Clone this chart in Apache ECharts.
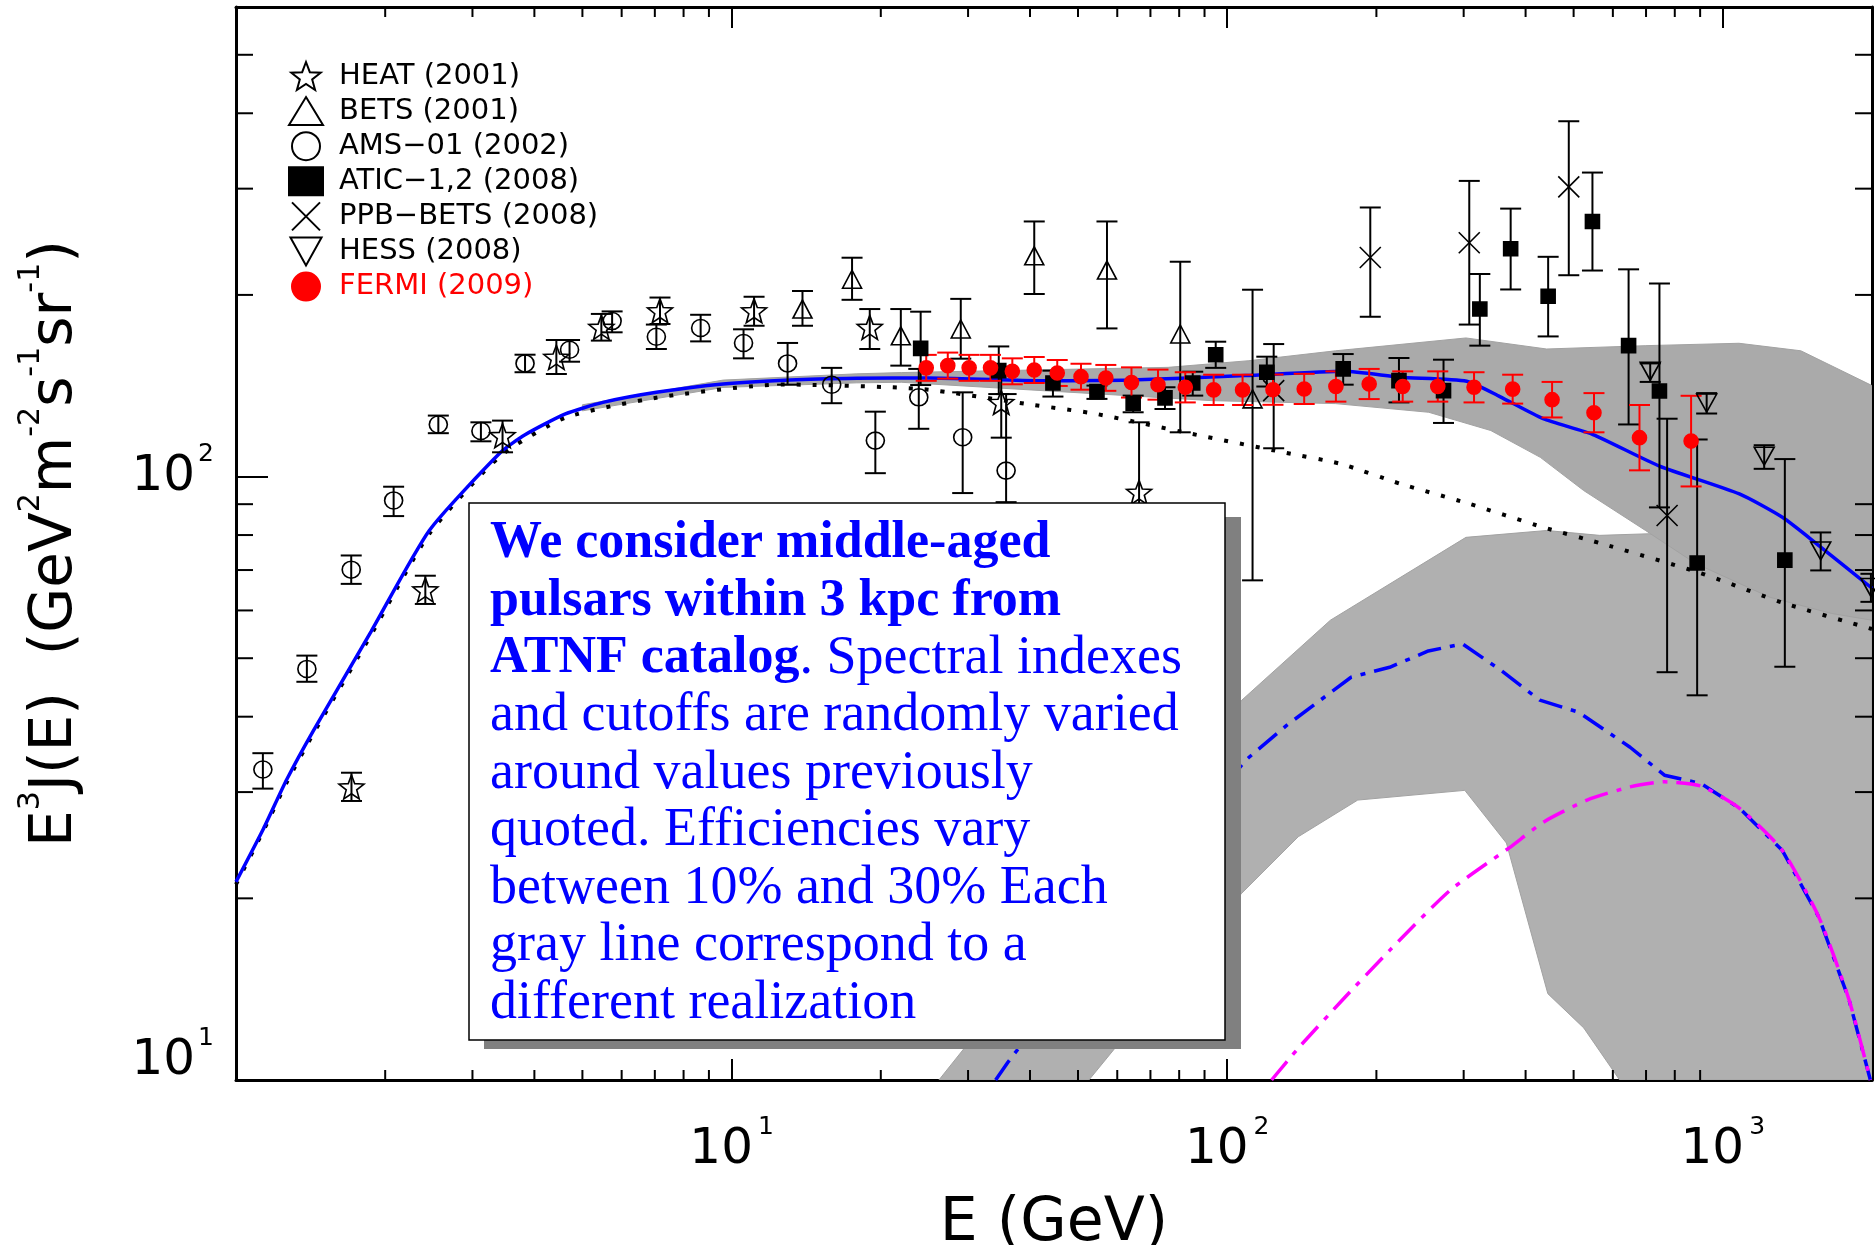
<!DOCTYPE html>
<html>
<head>
<meta charset="utf-8">
<script src="https://cdn.jsdelivr.net/npm/echarts@6/dist/echarts.min.js"></script>
<style>
  html, body { margin: 0; padding: 0; background: #fff; }
  #chart { width: 1875px; height: 1245px; }
</style>
</head>
<body>
<div id="chart"></div>
<script>
// axis ranges
const E_MIN = 1, E_MAX = 2000, J_MIN = 10, J_MAX = 600;
const xMinorTicks = [2, 3, 4, 5, 6, 7, 8, 9, 20, 30, 40, 50, 60, 70, 80, 90, 200, 300, 400, 500, 600, 700, 800, 900];
const yMinorTicks = [20, 30, 40, 50, 60, 70, 80, 90, 200, 300, 400, 500];

// measurements: [E, E^3 J, low, high]
const heat = [
  [1.71, 30.6, 29.0, 32.3], [2.41, 64.9, 61.5, 68.5], [3.45, 116.9, 109.7, 123.8],
  [4.43, 157.6, 147.9, 168.4], [5.46, 176.7, 168.0, 186.0], [7.17, 188.3, 179.0, 198.0],
  [11.1, 188.3, 177.8, 198.6], [19.0, 176.7, 162.7, 189.5], [35.0, 132.7, 116.0, 152.0],
  [66.4, 94.2, 72.0, 123.0]
];
const bets = [
  [13.9, 189.5, 177.8, 203.0], [17.5, 212.3, 196.3, 230.5], [21.95, 171.1, 152.7, 189.5],
  [29.0, 175.6, 156.8, 197.0], [40.8, 232.2, 200.7, 264.7], [57.2, 219.9, 176.0, 264.7],
  [80.4, 172.3, 118.4, 227.0], [112.5, 134.5, 67.3, 204.0]
];
const ams = [
  [1.133, 32.7, 30.4, 34.8], [1.39, 48.0, 45.7, 50.5], [1.708, 70.1, 66.4, 74.0],
  [2.08, 91.3, 86.0, 96.2], [2.56, 122.0, 118.0, 126.2], [3.12, 119.0, 114.4, 123.0],
  [3.83, 154.0, 148.9, 159.2], [4.71, 162.2, 155.0, 168.4], [5.74, 181.0, 173.4, 187.8],
  [7.05, 170.5, 162.7, 178.6], [8.66, 176.3, 167.5, 185.4], [10.57, 166.5, 157.0, 175.4],
  [12.97, 154.0, 142.0, 166.5], [15.92, 142.0, 132.3, 151.4], [19.5, 114.7, 101.3, 128.1],
  [23.86, 135.3, 120.0, 150.8], [29.26, 116.2, 93.9, 137.9], [35.8, 102.3, 90.7, 137.0]
];
const atic = [
  [24.07, 163.1, 141.8, 187.6], [34.6, 149.8, 137.0, 164.3], [44.5, 142.9, 135.7, 149.8],
  [54.6, 138.3, 134.5, 141.5], [64.6, 132.3, 127.8, 136.2], [74.9, 135.0, 129.4, 140.6],
  [85.2, 142.9, 136.2, 149.2], [94.8, 159.2, 151.4, 167.3], [120.2, 148.9, 141.0, 158.0],
  [171.4, 150.8, 142.0, 159.6], [222.1, 144.2, 132.7, 157.2], [273.2, 138.8, 122.7, 156.2],
  [323.4, 189.5, 164.8, 216.6], [373.2, 238.5, 204.2, 278.0], [444.2, 199.0, 170.7, 231.3],
  [545.7, 264.6, 219.5, 319.0], [645.5, 164.8, 122.0, 220.5], [745, 138.6, 88.9, 208.9],
  [887.6, 71.9, 43.4, 115.2], [1334, 72.7, 48.4, 106.9]
];
const ppbBets = [
  [124.1, 138.8, 111.4, 165.8], [194.4, 230.7, 184.0, 279.2], [307.9, 244.0, 178.6, 309.0],
  [488.9, 302.0, 215.6, 388.0], [772, 86.2, 47.4, 124.7]
];
const hess = [
  [713.7, 149.5, 143.5, 154.0], [927.7, 132.4, 127.2, 137.5],
  [1212, 108.1, 103.0, 112.7], [1576, 75.3, 69.9, 80.8], [1990, 65.5, 62.0, 69.0]
];
const fermi = [
  [24.7, 151.4, 144.1, 159.1], [27.3, 152.7, 145.3, 160.5], [30.15, 151.4, 144.1, 159.1],
  [33.3, 151.4, 144.1, 159.1], [36.85, 149.4, 142.2, 157.0], [40.8, 150.2, 142.9, 157.8],
  [45.4, 148.5, 141.3, 156.0], [50.7, 146.4, 139.3, 153.8], [56.9, 145.7, 138.7, 153.1],
  [64.1, 143.2, 135.2, 151.7], [72.5, 142.0, 134.1, 150.4], [82.3, 140.6, 132.7, 148.9],
  [93.9, 139.2, 131.4, 147.5], [107.4, 139.2, 131.4, 147.5], [123.7, 139.3, 131.5, 147.6],
  [143, 139.7, 131.9, 148.0], [165.7, 141.0, 133.1, 149.4], [193.4, 142.4, 134.4, 150.8],
  [226, 141.0, 133.1, 149.4], [266, 141.0, 133.1, 149.4], [314.8, 140.6, 132.7, 148.9],
  [376.7, 139.6, 132.1, 147.5], [452.4, 134.1, 125.3, 143.5], [549.6, 127.6, 118.4, 137.5],
  [679, 116.0, 102.4, 131.4], [863, 114.5, 96.3, 136.1]
];

// model curves
const totalE = [1.0, 1.136, 1.265, 1.432, 1.874, 2.455, 3.42, 3.83, 4.62, 5.50, 7.05, 9.61, 13.12, 17.89, 24.9, 41.0, 63.8, 108.7, 172.4, 223.4, 304.3, 354.9, 434, 547, 745, 1080, 1319, 1540, 2000];
const totalJ = [21.3, 26.08, 31.44, 37.9, 55.4, 81.4, 109.7, 117.3, 127.0, 132.7, 137.9, 142.4, 144.6, 145.5, 145.7, 144.2, 144.6, 147.0, 149.4, 146.1, 143.9, 135.7, 124.7, 117.4, 104.1, 93.6, 85.6, 77.6, 65.3];
const bgE = [1.0, 1.136, 1.265, 1.432, 1.874, 2.455, 3.42, 4.62, 7.05, 12.58, 24.1, 40.2, 54.4, 84.8, 129.8, 169.2, 223.4, 304.3, 434, 564.3, 897, 1319, 2000];
const bgJ = [21.1, 25.9, 31.1, 37.5, 54.7, 80.4, 108.3, 125.2, 135.1, 142.1, 139.7, 131.6, 127.0, 117.7, 109.7, 105.0, 97.3, 90.4, 82.4, 77.6, 69.3, 61.8, 55.9];
const pulsarsE = [34.1, 36.1, 61.0, 109.0, 131.8, 177.8, 212.7, 254.6, 298.5, 357.2, 427.4, 511.5, 650, 762.4, 903, 1081, 1319, 1563, 1797, 1985];
const pulsarsJ = [10, 10.7, 18.8, 33.9, 38.7, 46.5, 48.3, 51.4, 52.8, 47.7, 42.6, 40.7, 35.6, 32.0, 31.0, 28.2, 24.0, 18.6, 13.6, 10];
const singleE = [122.9, 139.9, 170.8, 212.7, 281.2, 371.9, 436.1, 532.3, 650, 762.4, 903, 1081, 1319, 1563, 1797, 1985];
const singleJ = [10, 11.35, 13.57, 16.4, 20.6, 24.3, 26.8, 29.1, 30.6, 31.2, 30.7, 28.2, 24.0, 18.6, 13.6, 10];

// envelopes of the gray realizations
const upTopE = [5.0, 9.61, 17.89, 22.0, 76.0, 110.6, 165.5, 303.2, 441.1, 699.4, 1078, 1437, 2000];
const upTopJ = [131.5, 144.5, 148.0, 148.7, 151.7, 155.6, 161.6, 169.7, 162.7, 164.8, 166.3, 161.6, 141.5];
const upBotE = [5.0, 9.61, 17.89, 22.0, 93.1, 165.3, 255.1, 340.3, 428.4, 524, 698.4, 880.5, 1244, 1660, 2000];
const upBotJ = [128.5, 140.5, 143.0, 143.3, 133.6, 132.1, 127.8, 119.2, 107.6, 94.8, 81.4, 71.8, 63.1, 59.3, 57.8];
const lowTopE = [26.2, 107, 161.5, 303.2, 441.1, 564.3, 711.4, 897, 1425, 2000];
const lowTopJ = [10, 42.6, 57.8, 79.3, 81.4, 79.9, 80.4, 76.9, 68.6, 62.3];
const lowBotE = [52.6, 107, 139.1, 183.4, 301.6, 365.9, 443.6, 524, 619.2, 2000];
const lowBotJ = [10, 20.4, 25.3, 29.1, 30.2, 24.7, 13.9, 12.2, 10, 10];

const FONT = 'DejaVu Sans';
const CAP = 10.5;

function zip(xs, ys) { return xs.map((x, i) => [x, ys[i]]); }

function starPath() {
  let d = '';
  for (let i = 0; i < 10; i++) {
    const a = -Math.PI / 2 + i * Math.PI / 5;
    const r = i % 2 ? 0.42 : 1;
    d += (i ? 'L' : 'M') + (10 + 10 * r * Math.cos(a)).toFixed(3) + ',' + (10 + 10 * r * Math.sin(a)).toFixed(3);
  }
  return 'path://' + d + 'Z';
}
const STAR = starPath();
const DOWN_TRI = 'path://M0,0L20,0L10,18Z';
const CROSS = 'path://M0,0L20,20M20,0L0,20';

function bandSeries(topE, topJ, botE, botJ, fill) {
  return {
    type: 'custom', silent: true, clip: true, z: 1,
    data: [[topE[0], topJ[0]]],
    encode: { x: 0, y: 1 },
    renderItem: function (params, api) {
      const pts = [];
      topE.forEach((e, i) => pts.push(api.coord([e, topJ[i]])));
      for (let i = botE.length - 1; i >= 0; i--) pts.push(api.coord([botE[i], botJ[i]]));
      return { type: 'polygon', shape: { points: pts }, style: { fill: fill, stroke: '#a2a2a2', lineWidth: 1 } };
    }
  };
}

function errorSeries(data, color) {
  return {
    type: 'custom', silent: true, clip: true, z: 4,
    data: data.map(d => [d[0], d[2], d[3]]),
    encode: { x: 0, y: [1, 2] },
    renderItem: function (params, api) {
      const x = api.value(0);
      const a = api.coord([x, api.value(1)]);
      const b = api.coord([x, api.value(2)]);
      const st = () => ({ stroke: color, lineWidth: 2 });
      return {
        type: 'group', children: [
          { type: 'line', shape: { x1: a[0], y1: a[1], x2: b[0], y2: b[1] }, style: st() },
          { type: 'line', shape: { x1: a[0] - CAP, y1: a[1], x2: a[0] + CAP, y2: a[1] }, style: st() },
          { type: 'line', shape: { x1: b[0] - CAP, y1: b[1], x2: b[0] + CAP, y2: b[1] }, style: st() }
        ]
      };
    }
  };
}

function pointSeries(name, data, symbol, size, fill, stroke) {
  return {
    type: 'scatter', name: name, z: 5, silent: true,
    data: data.map(d => [d[0], d[1]]),
    symbol: symbol, symbolSize: size,
    itemStyle: { color: fill, borderColor: stroke, borderWidth: 1.6, opacity: 1 }
  };
}

function curve(xs, ys, color, type, width, smooth) {
  return {
    type: 'line', data: zip(xs, ys), symbol: 'none', silent: true, z: 3,
    smooth: smooth, lineStyle: { color: color, width: width, type: type, cap: 'butt' }
  };
}

function minorTicks(values, isX) {
  return {
    type: 'custom', silent: true, z: 6,
    data: values.map(v => isX ? [v, J_MIN] : [E_MIN, v]),
    encode: { x: 0, y: 1 },
    renderItem: function (params, api) {
      const v = isX ? api.value(0) : api.value(1);
      const st = () => ({ stroke: '#000', lineWidth: 2 });
      if (isX) {
        const b = api.coord([v, J_MIN]), t = api.coord([v, J_MAX]);
        return { type: 'group', children: [
          { type: 'line', shape: { x1: b[0], y1: b[1], x2: b[0], y2: b[1] - 10 }, style: st() },
          { type: 'line', shape: { x1: t[0], y1: t[1], x2: t[0], y2: t[1] + 10 }, style: st() }
        ] };
      }
      const l = api.coord([E_MIN, v]), r = api.coord([E_MAX, v]);
      return { type: 'group', children: [
        { type: 'line', shape: { x1: l[0], y1: l[1], x2: l[0] + 17, y2: l[1] }, style: st() },
        { type: 'line', shape: { x1: r[0], y1: r[1], x2: r[0] - 17, y2: r[1] }, style: st() }
      ] };
    }
  };
}

function powLabel(v, skipZero) {
  const e = Math.round(Math.log10(v));
  if (Math.abs(v - Math.pow(10, e)) > 1e-6 * v) return '';
  if (skipZero && e === 0) return '';
  return e;
}

const tickRich = (pad) => ({
  m: { fontFamily: FONT, fontSize: 50, lineHeight: 70, color: '#000' },
  e: { fontFamily: FONT, fontSize: 25, lineHeight: 25, verticalAlign: 'top', padding: [0, 0, 0, pad], color: '#000' },
  gap: { fontFamily: FONT, fontSize: 10, lineHeight: 38, color: '#000' }
});

const frameLine = { show: true, lineStyle: { color: '#000', width: 3 } };

const boxText = [
  '{b|We consider middle-aged}',
  '{b|pulsars within 3 kpc from}',
  '{b|ATNF catalog}{n|. Spectral indexes}',
  '{n|and cutoffs are randomly varied}',
  '{n|around values previously}',
  '{n|quoted. Efficiencies vary}',
  '{n|between 10% and 30% Each}',
  '{n|gray line correspond to a}',
  '{n|different realization}'
].join('\n');

const chart = echarts.init(document.getElementById('chart'));
chart.setOption({
  animation: false,
  backgroundColor: '#fff',
  grid: { left: 236, right: 3, top: 7, bottom: 165, containLabel: false, outerBoundsMode: 'none' },
  legend: {
    orient: 'vertical', left: 288, top: 61, padding: 0,
    itemWidth: 34, itemHeight: 28, itemGap: 5.1,
    itemStyle: { opacity: 1 },
    textStyle: { fontFamily: FONT, fontSize: 29, color: '#000', padding: [0, 0, 0, 11] },
    data: [
      { name: 'HEAT (2001)', icon: STAR },
      { name: 'BETS (2001)', icon: 'triangle' },
      { name: 'AMS\u221201 (2002)', icon: 'circle' },
      { name: 'ATIC\u22121,2 (2008)', icon: 'rect' },
      { name: 'PPB\u2212BETS (2008)', icon: CROSS },
      { name: 'HESS (2008)', icon: DOWN_TRI },
      { name: 'FERMI (2009)', icon: 'circle', textStyle: { color: '#ff0000' } }
    ]
  },
  xAxis: [
    {
      type: 'log', logBase: 10, min: E_MIN, max: E_MAX, position: 'bottom',
      name: 'E (GeV)', nameLocation: 'middle', nameGap: 111,
      nameTextStyle: { fontFamily: FONT, fontSize: 60, color: '#000', lineHeight: 66 },
      axisLine: frameLine, splitLine: { show: false },
      axisTick: { inside: true, length: 21, lineStyle: { color: '#000', width: 2 } },
      axisLabel: {
        margin: 35, showMinLabel: true, showMaxLabel: true,
        formatter: v => { const e = powLabel(v, true); return e === '' ? '' : '{m|10}{e|' + e + '}'; },
        rich: tickRich(5)
      }
    },
    {
      type: 'log', logBase: 10, min: E_MIN, max: E_MAX, position: 'top',
      axisLine: frameLine, splitLine: { show: false }, axisLabel: { show: false },
      axisTick: { inside: true, length: 21, lineStyle: { color: '#000', width: 2 } }
    }
  ],
  yAxis: [
    {
      type: 'log', logBase: 10, min: J_MIN, max: J_MAX, position: 'left',
      name: '{n|E}{s|3}{n|J(E)  (GeV}{s|2}{n|m}{s|-2}{n|s}{s|-1}{n|sr}{s|-1}{n|)}',
      nameLocation: 'middle', nameGap: 140,
      nameTextStyle: {
        fontFamily: FONT, color: '#000',
        rich: {
          n: { fontFamily: FONT, fontSize: 58, lineHeight: 80, color: '#000' },
          s: { fontFamily: FONT, fontSize: 30, lineHeight: 30, verticalAlign: 'top', color: '#000' }
        }
      },
      axisLine: frameLine, splitLine: { show: false },
      axisTick: { inside: true, length: 32, lineStyle: { color: '#000', width: 2 } },
      axisLabel: {
        margin: 22, showMinLabel: true, showMaxLabel: true,
        formatter: v => {
          const e = powLabel(v, false);
          if (e === '') return '';
          // lowest label sits above its tick, as in the original
          return e === 1 ? '{m|10}{e|1}\n{gap| }' : '{m|10}{e|' + e + '}';
        },
        rich: tickRich(3)
      }
    },
    {
      type: 'log', logBase: 10, min: J_MIN, max: J_MAX, position: 'right',
      axisLine: frameLine, splitLine: { show: false }, axisLabel: { show: false },
      axisTick: { inside: true, length: 32, lineStyle: { color: '#000', width: 2 } }
    }
  ],
  graphic: [
    { type: 'rect', z: 100, shape: { x: 484, y: 517, width: 757, height: 532 }, style: { fill: '#808080' } },
    { type: 'rect', z: 101, shape: { x: 469, y: 503, width: 756, height: 537 }, style: { fill: '#fff', stroke: '#000', lineWidth: 1.5 } },
    {
      type: 'text', z: 102, x: 490, y: 515,
      style: {
        text: boxText, verticalAlign: 'top', align: 'left',
        rich: {
          b: { fontFamily: 'Liberation Serif', fontSize: 52, fontWeight: 'bold', lineHeight: 57.5, fill: '#0000ff' },
          n: { fontFamily: 'Liberation Serif', fontSize: 54, lineHeight: 57.5, fill: '#0000ff' }
        }
      }
    }
  ],
  series: [
    bandSeries(lowTopE, lowTopJ, lowBotE, lowBotJ, '#b0b0b0'),
    bandSeries(upTopE, upTopJ, upBotE, upBotJ, '#aaaaaa'),
    curve(bgE, bgJ, '#000', [4, 12], 4, 0.2),
    curve(totalE, totalJ, '#0000ff', 'solid', 3.5, 0.2),
    curve(pulsarsE, pulsarsJ, '#0000ff', [24, 9, 5, 9], 3.5, false),
    curve(singleE, singleJ, '#ff00ff', [24, 9, 5, 9], 3.5, 0.2),
    errorSeries(heat, '#000'), errorSeries(bets, '#000'), errorSeries(ams, '#000'),
    errorSeries(atic, '#000'), errorSeries(ppbBets, '#000'), errorSeries(hess, '#000'),
    errorSeries(fermi, '#ff0000'),
    pointSeries('HEAT (2001)', heat, STAR, [25, 24], 'rgba(0,0,0,0)', '#000'),
    pointSeries('BETS (2001)', bets, 'triangle', [19, 18], 'rgba(0,0,0,0)', '#000'),
    pointSeries('AMS\u221201 (2002)', ams, 'circle', [18, 17], 'rgba(0,0,0,0)', '#000'),
    pointSeries('ATIC\u22121,2 (2008)', atic, 'rect', 14, '#000', '#000'),
    pointSeries('PPB\u2212BETS (2008)', ppbBets, CROSS, 21, 'rgba(0,0,0,0)', '#000'),
    pointSeries('HESS (2008)', hess, DOWN_TRI, [20, 18], 'rgba(0,0,0,0)', '#000'),
    pointSeries('FERMI (2009)', fermi, 'circle', 14, '#ff0000', '#ff0000'),
    minorTicks(xMinorTicks, true),
    minorTicks(yMinorTicks, false)
  ]
});
window.addEventListener('resize', () => chart.resize());
</script>
</body>
</html>
